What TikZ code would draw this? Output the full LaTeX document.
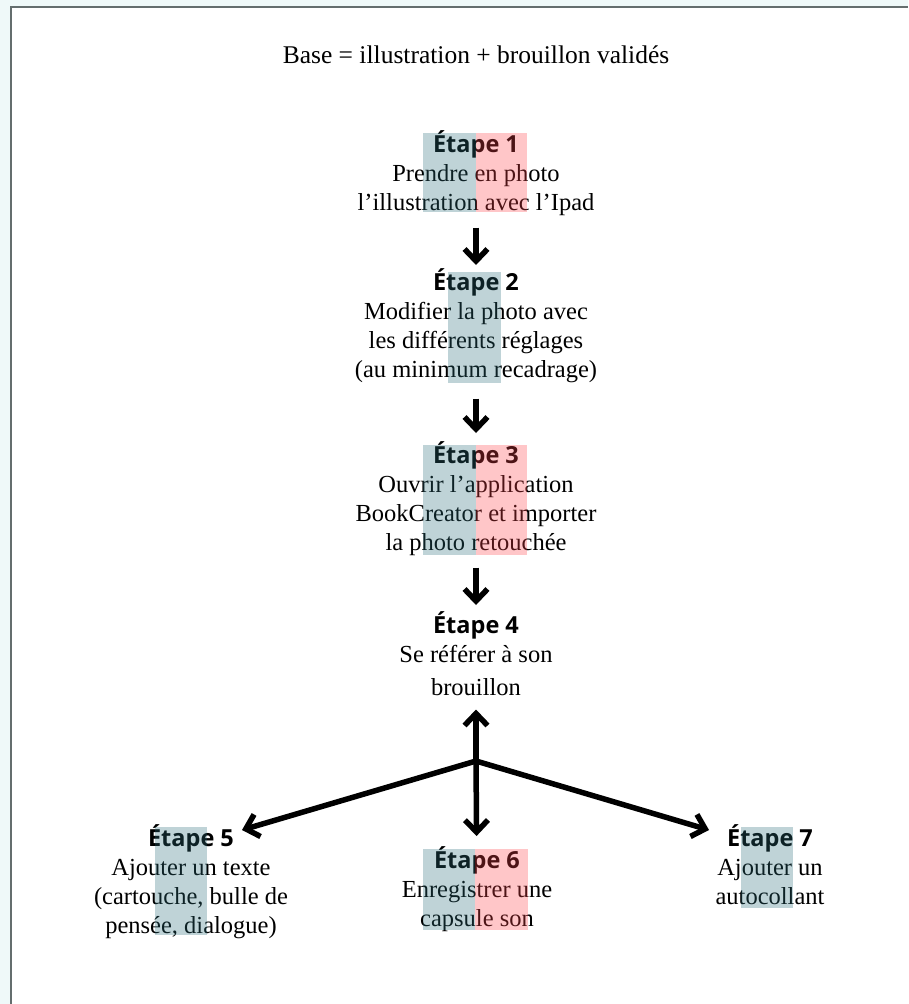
\documentclass[tikz,border=0pt]{standalone}
\usepackage{fontspec}
\setmainfont{Liberation Serif}
\newfontfamily\stepfont{Open Sans}
\usetikzlibrary{arrows.meta}
\definecolor{pagebg}{HTML}{EFF9F9}
\definecolor{framegray}{HTML}{646E6E}
\definecolor{markblue}{HTML}{2D707D}
\definecolor{markpink}{HTML}{FF444B}
\newcommand{\etape}[1]{{\stepfont\bfseries\fontsize{23.5}{26}\selectfont Étape #1}}
\tikzset{
  stepnode/.style={anchor=north, align=center, inner sep=0pt, font=\fontsize{24.5}{29}\selectfont},
  arr/.style={line width=5.5pt, -{Straight Barb[length=12pt,width=23pt]}},
  bluemark/.style={fill=markblue, fill opacity=0.3},
  pinkmark/.style={fill=markpink, fill opacity=0.3},
}
\begin{document}
\begin{tikzpicture}[x=1pt,y=-1pt]
  \useasboundingbox (0,0) rectangle (908,1004);
  \fill[pagebg] (0,0) rectangle (908,1004);
  \fill[white] (11,7) rectangle (908,1004);
  \draw[framegray, line width=2pt] (11,1004) -- (11,7) -- (908,7);

  \node[anchor=base, font=\fontsize{25.5}{29}\selectfont] (base) at (476,63) {Base = illustration + brouillon validés};

  \node[stepnode] (e1) at (476,130) {\etape{1}\\ Prendre en photo\\ l’illustration avec l’Ipad};
  \node[stepnode] (e2) at (476,268) {\etape{2}\\ Modifier la photo avec\\ les différents réglages\\ (au minimum recadrage)};
  \node[stepnode] (e3) at (476,441) {\etape{3}\\ Ouvrir l’application\\ BookCreator et importer\\ la photo retouchée};
  \node[stepnode] (e4) at (476,611) {\etape{4}\\ Se référer à son\\[4pt] brouillon};
  \node[stepnode] (e5) at (191,824) {\etape{5}\\ Ajouter un texte\\ (cartouche, bulle de\\ pensée, dialogue)}; % left
  \node[stepnode] (e6) at (477,846) {\etape{6}\\ Enregistrer une\\ capsule son}; % middle
  \node[stepnode] (e7) at (770,824) {\etape{7}\\ Ajouter un\\ autocollant}; % right

  \draw[arr, shorten <=12pt, shorten >=3pt] (e1) -- (e2);
  \draw[arr, shorten <=16pt, shorten >=8pt] (e2) -- (e3);
  \draw[arr, shorten <=12pt, shorten >=6pt] (e3) -- (e4);

  \coordinate (hub) at (476,761);
  \coordinate (to5) at (242,830);
  \coordinate (to7) at (709,830);
  \draw[arr, shorten >=14pt] (hub) -- (e4);
  \draw[arr] (hub) -- (to5);
  \draw[arr, shorten >=10pt] (hub) -- (e6);
  \draw[arr] (hub) -- (to7);

  % highlights
  \fill[bluemark] (423,133) rectangle (476,212);
  \fill[pinkmark] (476,133) rectangle (527,212);
  \fill[bluemark] (448,272) rectangle (501,383);
  \fill[bluemark] (423,445) rectangle (476,555);
  \fill[pinkmark] (476,445) rectangle (527,555);
  \fill[bluemark] (155,827) rectangle (207,935);
  \fill[bluemark] (423,849) rectangle (475,930);
  \fill[pinkmark] (475,849) rectangle (528,930);
  \fill[bluemark] (741,827) rectangle (793,908);
\end{tikzpicture}
\end{document}
